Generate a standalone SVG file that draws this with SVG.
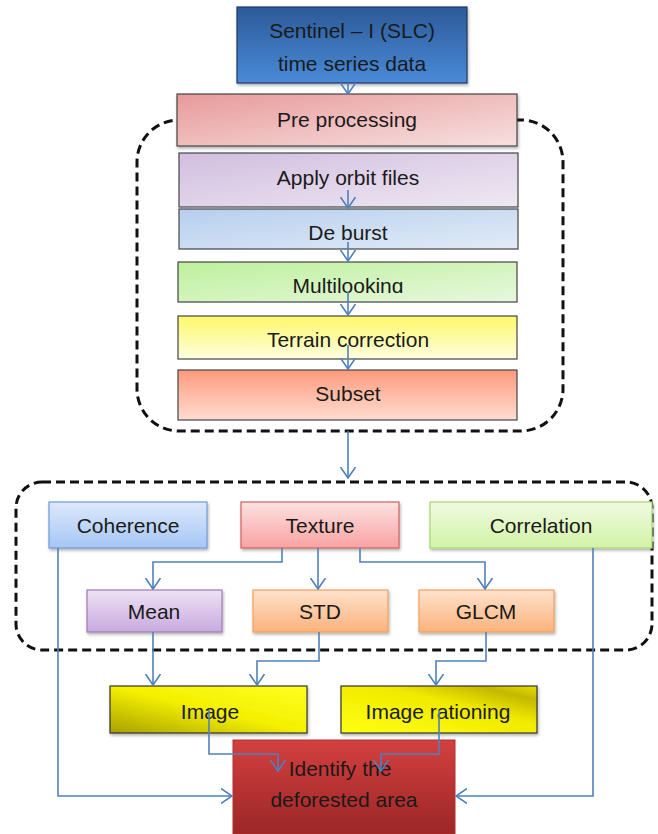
<svg xmlns="http://www.w3.org/2000/svg" width="658" height="834" viewBox="0 0 658 834">
<style>
text{font-family:"Liberation Sans",Arial,sans-serif;font-size:21px;fill:#1a1a1a;text-anchor:middle}
.box{stroke:#444;stroke-width:1.2}
.c{fill:none;stroke:#4f81bd;stroke-width:1.6}
.dash{fill:none;stroke:#111;stroke-width:3;stroke-dasharray:9 5}
</style>
<defs>
<marker id="ah" viewBox="0 0 12 16" refX="11" refY="8" markerWidth="12" markerHeight="16" markerUnits="userSpaceOnUse" orient="auto">
<path d="M0,0.5 L11,8 L0,15.5" fill="none" stroke="#4f81bd" stroke-width="1.6"/>
</marker>
<filter id="sh" x="-5%" y="-10%" width="112%" height="130%"><feDropShadow dx="1" dy="2" stdDeviation="1.5" flood-color="#000" flood-opacity="0.3"/></filter>
<linearGradient id="gSen" x1="0" y1="0" x2="0" y2="1"><stop offset="0" stop-color="#2c5a98"/><stop offset="1" stop-color="#4a8ad8"/></linearGradient>
<linearGradient id="gPre" x1="0" y1="0" x2="1" y2="1"><stop offset="0" stop-color="#e89a9a"/><stop offset="1" stop-color="#f7e0e0"/></linearGradient>
<linearGradient id="gOrb" x1="0" y1="0" x2="1" y2="1"><stop offset="0" stop-color="#d2bee0"/><stop offset="1" stop-color="#efe8f2"/></linearGradient>
<linearGradient id="gDeb" x1="0" y1="0" x2="1" y2="1"><stop offset="0" stop-color="#b6cfee"/><stop offset="1" stop-color="#e2ebf7"/></linearGradient>
<linearGradient id="gMul" x1="0" y1="0" x2="1" y2="1"><stop offset="0" stop-color="#bdf09c"/><stop offset="1" stop-color="#e8f8de"/></linearGradient>
<linearGradient id="gTer" x1="0" y1="0" x2="0" y2="1"><stop offset="0" stop-color="#fff86a"/><stop offset="1" stop-color="#fefee0"/></linearGradient>
<linearGradient id="gSub" x1="0" y1="0" x2="0" y2="1"><stop offset="0" stop-color="#ff9a7c"/><stop offset="1" stop-color="#ffddd2"/></linearGradient>
<linearGradient id="gCoh" x1="0" y1="0" x2="0" y2="1"><stop offset="0" stop-color="#dde9fc"/><stop offset="1" stop-color="#a6c6f6"/></linearGradient>
<linearGradient id="gTex" x1="0" y1="0" x2="0" y2="1"><stop offset="0" stop-color="#fde2e2"/><stop offset="1" stop-color="#f8a2a2"/></linearGradient>
<linearGradient id="gCor" x1="0" y1="0" x2="0" y2="1"><stop offset="0" stop-color="#f0fbe2"/><stop offset="1" stop-color="#d2f3a6"/></linearGradient>
<linearGradient id="gMea" x1="0" y1="0" x2="0" y2="1"><stop offset="0" stop-color="#eee2f4"/><stop offset="1" stop-color="#c8aadf"/></linearGradient>
<linearGradient id="gOra" x1="0" y1="0" x2="0" y2="1"><stop offset="0" stop-color="#ffe2cc"/><stop offset="1" stop-color="#fbb27c"/></linearGradient>
<linearGradient id="gImg" x1="0" y1="1" x2="1" y2="0"><stop offset="0" stop-color="#a8a000"/><stop offset="0.5" stop-color="#f4f000"/><stop offset="1" stop-color="#ffff20"/></linearGradient>
<linearGradient id="gRat" x1="0" y1="1" x2="1" y2="0"><stop offset="0" stop-color="#ffff10"/><stop offset="0.6" stop-color="#f0ea00"/><stop offset="0.85" stop-color="#c4b800"/><stop offset="1" stop-color="#e8e000"/></linearGradient>
<linearGradient id="gIde" x1="0" y1="0" x2="0" y2="1"><stop offset="0" stop-color="#d44040"/><stop offset="1" stop-color="#9c2626"/></linearGradient>
<clipPath id="clipMul"><rect x="170" y="255" width="360" height="38"/></clipPath>
</defs>

<g id="group-preprocessing"><rect class="dash" x="137" y="120" width="426" height="311" rx="42"/></g>
<g id="group-features"><rect class="dash" x="16" y="482" width="636" height="168" rx="26"/></g>

<g id="n-sentinel"><rect x="237" y="7" width="230" height="76" fill="url(#gSen)" stroke="#1f3864" stroke-width="1.2" filter="url(#sh)"/><text x="352" y="38">Sentinel – I (SLC)</text><text x="352" y="71">time series data</text></g>
<g id="n-pre"><rect class="box" x="177" y="94" width="340" height="52" fill="url(#gPre)" filter="url(#sh)"/><text x="347" y="127">Pre processing</text></g>
<g id="n-orbit"><rect class="box" x="179" y="153" width="339" height="54" fill="url(#gOrb)"/><text x="348" y="185">Apply orbit files</text></g>
<g id="n-deburst"><rect class="box" x="179" y="209" width="339" height="40" fill="url(#gDeb)"/><text x="348" y="240">De burst</text></g>
<g id="n-multi"><rect class="box" x="178" y="262" width="339" height="40" fill="url(#gMul)"/><text x="348" y="293" clip-path="url(#clipMul)">Multilooking</text></g>
<g id="n-terrain"><rect class="box" x="178" y="316" width="339" height="43" fill="url(#gTer)"/><text x="348" y="347">Terrain correction</text></g>
<g id="n-subset"><rect class="box" x="178" y="370" width="339" height="50" fill="url(#gSub)"/><text x="348" y="401">Subset</text></g>

<g id="n-coherence"><rect x="49" y="502" width="158" height="46" fill="url(#gCoh)" stroke="#6f9bd6" stroke-width="1.2" filter="url(#sh)"/><text x="128" y="533">Coherence</text></g>
<g id="n-texture"><rect x="241" y="502" width="158" height="46" fill="url(#gTex)" stroke="#d06060" stroke-width="1.2" filter="url(#sh)"/><text x="320" y="533">Texture</text></g>
<g id="n-correlation"><rect x="430" y="502" width="222" height="46" fill="url(#gCor)" stroke="#a8d870" stroke-width="1.2" filter="url(#sh)"/><text x="541" y="533">Correlation</text></g>
<g id="n-mean"><rect x="87" y="590" width="135" height="42" fill="url(#gMea)" stroke="#9f7ab8" stroke-width="1.2" filter="url(#sh)"/><text x="154" y="619">Mean</text></g>
<g id="n-std"><rect x="253" y="590" width="135" height="42" fill="url(#gOra)" stroke="#f0a060" stroke-width="1.2" filter="url(#sh)"/><text x="320" y="619">STD</text></g>
<g id="n-glcm"><rect x="419" y="590" width="135" height="42" fill="url(#gOra)" stroke="#f0a060" stroke-width="1.2" filter="url(#sh)"/><text x="486" y="619">GLCM</text></g>
<g id="n-image"><rect x="110" y="686" width="197" height="47" fill="url(#gImg)" stroke="#333" stroke-width="1.2" filter="url(#sh)"/><text x="210" y="719">Image</text></g>
<g id="n-ratio"><rect x="341" y="686" width="196" height="47" fill="url(#gRat)" stroke="#333" stroke-width="1.2" filter="url(#sh)"/><text x="438" y="719">Image rationing</text></g>
<g id="n-identify"><rect x="233" y="740" width="222" height="94" fill="url(#gIde)" stroke="#b03030" stroke-width="1"/><text x="340" y="776">Identify the</text><text x="344" y="807">deforested area</text></g>

<g id="connectors">
<path class="c" d="M348,83 V94" marker-end="url(#ah)"/>
<path class="c" d="M348,190 V208" marker-end="url(#ah)"/>
<path class="c" d="M348,242 V261" marker-end="url(#ah)"/>
<path class="c" d="M348,292 V315" marker-end="url(#ah)"/>
<path class="c" d="M348,345 V369" marker-end="url(#ah)"/>
<path class="c" d="M348,431 V478" marker-end="url(#ah)"/>
<path class="c" d="M282,548 V562 H153 V589" marker-end="url(#ah)"/>
<path class="c" d="M318,548 V589" marker-end="url(#ah)"/>
<path class="c" d="M360,548 V562 H485 V589" marker-end="url(#ah)"/>
<path class="c" d="M58,548 V796 H232" marker-end="url(#ah)"/>
<path class="c" d="M593,548 V796 H456" marker-end="url(#ah)"/>
<path class="c" d="M153,632 V685" marker-end="url(#ah)"/>
<path class="c" d="M319,632 V661 H257 V685" marker-end="url(#ah)"/>
<path class="c" d="M486,632 V661 H436 V685" marker-end="url(#ah)"/>
<path class="c" d="M209,710 V754 H278 V771" marker-end="url(#ah)"/>
<path class="c" d="M439,710 V754 H381 V771" marker-end="url(#ah)"/>
</g>
</svg>
